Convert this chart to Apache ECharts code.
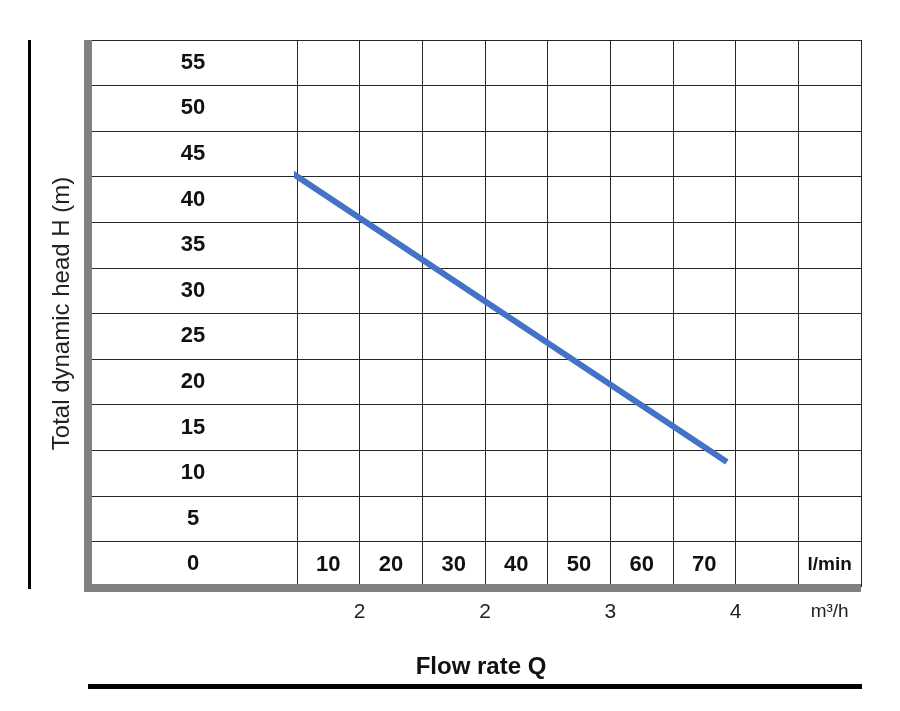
<!DOCTYPE html>
<html>
<head>
<meta charset="utf-8">
<script src="https://cdn.jsdelivr.net/npm/echarts@6/dist/echarts.min.js"></script>
<style>
html,body{margin:0;padding:0;background:#fff;}
#chart{width:900px;height:711px;}
</style>
</head>
<body>
<div id="chart"></div>
<script>
// Head labels (m) shown in the left column, one per row
var headLabels = ['0', '5', '10', '15', '20', '25', '30', '35', '40', '45', '50', '55'];
// Flow rate labels (l/min), one per column
var flowLabels = ['10', '20', '30', '40', '50', '60', '70', '', 'l/min'];
// m3/h labels placed on half-column slots
var m3hLabels = ['', '', '2', '', '', '', '2', '', '', '', '3', '', '', '', '4', '', '', 'm³/h', ''];
// Pump curve: flow rate Q (l/min) and head H (m)
var flowQ = [4.0, 73.6];
var headH = [43.0, 11.2];

var curve = flowQ.map(function (q, i) { return [q, headH[i]]; });

var FONT = 'Liberation Sans, Arial, sans-serif';
var gridLine = { show: true, lineStyle: { color: '#262626', width: 1 } };
var grayBar = { show: true, onZero: false, lineStyle: { color: '#808080', width: 8, cap: 'butt' } };

var chart = echarts.init(document.getElementById('chart'), null, { renderer: 'canvas' });
chart.setOption({
  animation: false,
  backgroundColor: '#fff',
  title: {
    text: 'Flow rate Q',
    left: 476,
    top: 650,
    textAlign: 'center',
    textStyle: { fontFamily: FONT, fontSize: 24, fontWeight: 'bold', color: '#111' }
  },
  grid: [
    { left: 92, top: 40, width: 205, height: 547 },
    { left: 297, top: 40, width: 564, height: 547 }
  ],
  xAxis: [
    { gridIndex: 0, type: 'value', min: 0, max: 1, position: 'bottom', offset: 1,
      axisLine: grayBar, axisTick: { show: false }, axisLabel: { show: false }, splitLine: { show: false } },
    { gridIndex: 1, type: 'category', data: flowLabels, boundaryGap: true, position: 'bottom', offset: 1,
      axisLine: grayBar, axisTick: { show: false }, splitLine: gridLine,
      axisLabel: { inside: true, interval: 0, margin: 23, verticalAlign: 'middle',
        fontFamily: FONT, fontSize: 22, fontWeight: 'bold', color: '#111',
        formatter: function (v) { return v === 'l/min' ? '{u|' + v + '}' : v; },
        rich: { u: { fontFamily: FONT, fontSize: 19, fontWeight: 'bold', color: '#111' } } } },
    { gridIndex: 1, type: 'category', data: m3hLabels, boundaryGap: false, position: 'bottom', offset: 0,
      axisLine: { show: false, onZero: false }, axisTick: { show: false }, splitLine: { show: false },
      axisLabel: { interval: 0, margin: 25, verticalAlign: 'middle',
        fontFamily: FONT, fontSize: 21, color: '#222',
        formatter: function (v) { return v === 'm³/h' ? '{u|' + v + '}' : v; },
        rich: { u: { fontFamily: FONT, fontSize: 19, color: '#222' } } } },
    { gridIndex: 1, type: 'value', min: 5, max: 95, show: false }
  ],
  yAxis: [
    { gridIndex: 0, type: 'category', data: headLabels, boundaryGap: true, position: 'left', offset: 4,
      axisLine: grayBar, axisTick: { show: false }, splitLine: gridLine,
      axisLabel: { inside: true, interval: 0, margin: 105, align: 'center',
        fontFamily: FONT, fontSize: 22, fontWeight: 'bold', color: '#111' },
      name: 'Total dynamic head H (m)', nameLocation: 'middle', nameRotate: 90, nameGap: 14,
      nameTextStyle: { fontFamily: FONT, fontSize: 24, color: '#222' } },
    { gridIndex: 1, type: 'category', data: headLabels, boundaryGap: true,
      axisLine: { show: false }, axisTick: { show: false }, axisLabel: { show: false }, splitLine: gridLine },
    { gridIndex: 1, type: 'value', min: -2.5, max: 57.5, show: false }
  ],
  graphic: [
    { type: 'line', shape: { x1: 29.5, y1: 40, x2: 29.5, y2: 589 }, style: { stroke: '#000', lineWidth: 3 } },
    { type: 'line', shape: { x1: 88, y1: 686.5, x2: 862, y2: 686.5 }, style: { stroke: '#000', lineWidth: 5 } },
    { type: 'rect', shape: { x: 84, y: 584, width: 9, height: 8 }, style: { fill: '#808080' } }
  ],
  series: [
    { type: 'line', xAxisIndex: 3, yAxisIndex: 2, data: curve, symbol: 'none', clip: false,
      lineStyle: { color: '#4472c4', width: 6 } }
  ]
});
</script>
</body>
</html>
